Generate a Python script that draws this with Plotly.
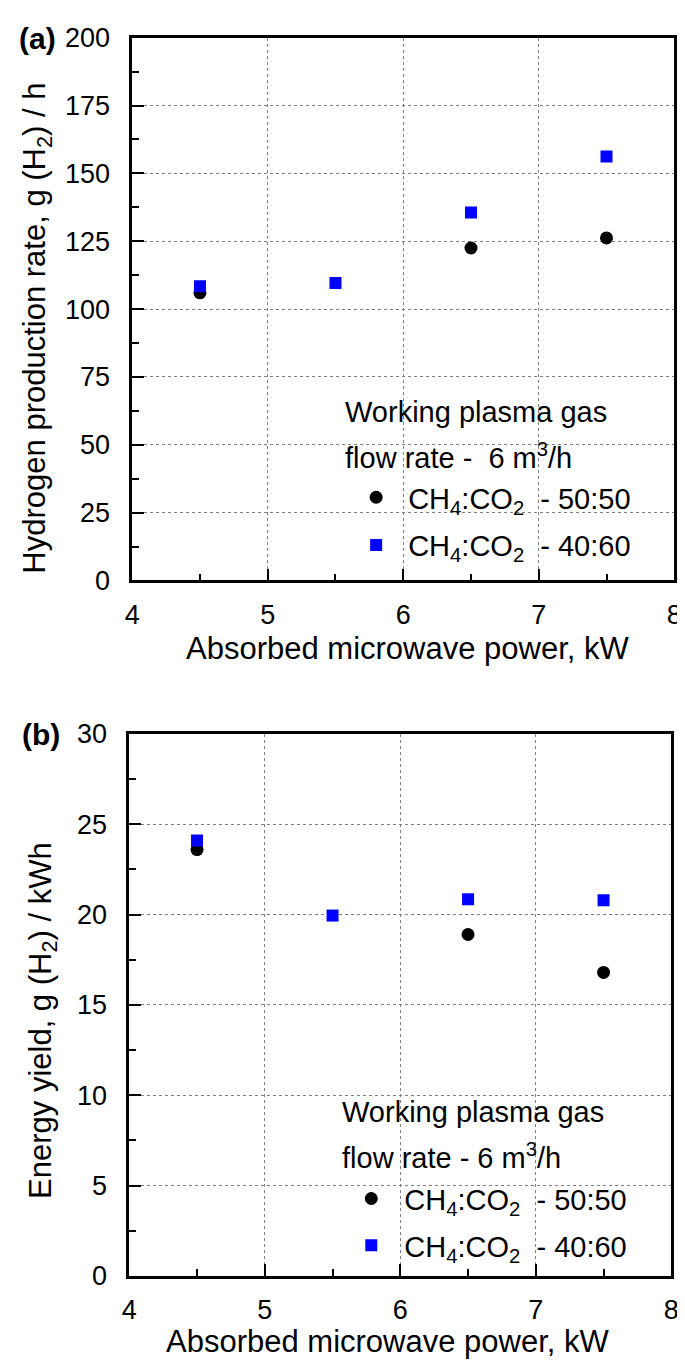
import plotly.graph_objects as go

# ---- data ----
power_5050 = [4.5, 6.5, 7.5]
power_4060 = [4.5, 5.5, 6.5, 7.5]
h2_rate_5050 = [106.0, 122.5, 126.2]
h2_rate_4060 = [108.4, 109.6, 135.6, 156.2]
yield_5050 = [23.6, 18.9, 16.8]
yield_4060 = [24.1, 19.95, 20.85, 20.8]

x_tickvals = [4, 5, 6, 7, 8]
ya_tickvals = [0, 25, 50, 75, 100, 125, 150, 175, 200]
yb_tickvals = [0, 5, 10, 15, 20, 25, 30]

label_5050 = "CH<sub>4</sub>:CO<sub>2</sub>\u00a0\u00a0- 50:50"
label_4060 = "CH<sub>4</sub>:CO<sub>2</sub>\u00a0\u00a0- 40:60"

W, H = 685, 1365
FONT = "Liberation Sans, Arial, sans-serif"


def px(x):
    return x / W


def py(y):
    return 1 - y / H


fig = go.Figure()

fig.add_trace(go.Scatter(x=power_5050, y=h2_rate_5050, mode="markers", name=label_5050,
                         marker=dict(symbol="circle", size=13, color="black"),
                         xaxis="x", yaxis="y", legend="legend", legendgroup="a1"))
fig.add_trace(go.Scatter(x=power_4060, y=h2_rate_4060, mode="markers", name=label_4060,
                         marker=dict(symbol="square", size=12, color="#0000ff"),
                         xaxis="x", yaxis="y", legend="legend", legendgroup="a2"))
fig.add_trace(go.Scatter(x=power_5050, y=yield_5050, mode="markers", name=label_5050,
                         marker=dict(symbol="circle", size=13, color="black"),
                         xaxis="x2", yaxis="y2", legend="legend2", legendgroup="b1"))
fig.add_trace(go.Scatter(x=power_4060, y=yield_4060, mode="markers", name=label_4060,
                         marker=dict(symbol="square", size=12, color="#0000ff"),
                         xaxis="x2", yaxis="y2", legend="legend2", legendgroup="b2"))

common = dict(showline=True, linecolor="black", linewidth=2.5, mirror=True,
              ticks="inside", ticklen=12, tickwidth=2, tickcolor="black",
              showgrid=True, gridcolor="#7f7f7f", gridwidth=1, griddash="dot",
              zeroline=False, tickfont=dict(family=FONT, size=27, color="black"))

xdom_a = [px(119), px(674)]
xdom_b = [px(116), px(671)]

fig.update_layout(
    width=W, height=H,
    margin=dict(l=0, r=0, t=0, b=0),
    paper_bgcolor="white", plot_bgcolor="white",
    font=dict(family=FONT, size=27, color="black"),
    showlegend=True,
    xaxis=dict(domain=xdom_a, anchor="y", range=[4, 8], tickvals=x_tickvals,
               minor=dict(ticks="inside", ticklen=7, tickwidth=2, tickcolor="black", dtick=0.5, showgrid=False),
               ticklabelstandoff=8, **common),
    yaxis=dict(domain=[py(570), py(15)], anchor="x", range=[0, 200], tickvals=ya_tickvals,
               minor=dict(ticks="inside", ticklen=7, tickwidth=2, tickcolor="black", dtick=12.5, showgrid=False),
               ticklabelstandoff=14, **common),
    xaxis2=dict(domain=xdom_b, anchor="y2", range=[4, 8], tickvals=x_tickvals,
                minor=dict(ticks="inside", ticklen=7, tickwidth=2, tickcolor="black", dtick=0.5, showgrid=False),
                ticklabelstandoff=8, **common),
    yaxis2=dict(domain=[py(1281), py(727)], anchor="x2", range=[0, 30], tickvals=yb_tickvals,
                minor=dict(ticks="inside", ticklen=7, tickwidth=2, tickcolor="black", dtick=2.5, showgrid=False),
                ticklabelstandoff=14, **common),
    legend=dict(x=px(336), y=py(459), xanchor="left", yanchor="top",
                bgcolor="rgba(0,0,0,0)", borderwidth=0, tracegroupgap=7, itemwidth=54,
                font=dict(family=FONT, size=29, color="black")),
    legend2=dict(x=px(330), y=py(1176), xanchor="left", yanchor="top",
                 bgcolor="rgba(0,0,0,0)", borderwidth=0, tracegroupgap=6, itemwidth=56,
                 font=dict(family=FONT, size=29, color="black")),
)

ann = []


def add_text(text, x, y, size=31, xanchor="center", yanchor="middle", angle=0, bold=False):
    ann.append(dict(text=("<b>%s</b>" % text) if bold else text,
                    x=px(x), y=py(y), xref="paper", yref="paper",
                    xanchor=xanchor, yanchor=yanchor, textangle=angle, showarrow=False,
                    font=dict(family=FONT, size=size, color="black")))


add_text("(a)", 22, 16, size=30, bold=True)
add_text("(b)", 26, 727, size=30, bold=True)
add_text("Hydrogen production rate, g (H<sub>2</sub>) / h", 22, 312, angle=-90)
add_text("Energy yield, g (H<sub>2</sub>) / kWh", 27, 1020, angle=-90)
add_text("Absorbed microwave power, kW", 401, 640)
add_text("Absorbed microwave power, kW", 381, 1348)
add_text("Working plasma gas", 335, 398, size=29, xanchor="left")
add_text("flow rate -\u00a0\u00a06 m<sup>3</sup>/h", 335, 443, size=29, xanchor="left")
add_text("Working plasma gas", 332, 1113, size=29, xanchor="left")
add_text("flow rate - 6 m<sup>3</sup>/h", 332, 1158, size=29, xanchor="left")

fig.update_layout(annotations=ann)

fig.write_html("out.html")
